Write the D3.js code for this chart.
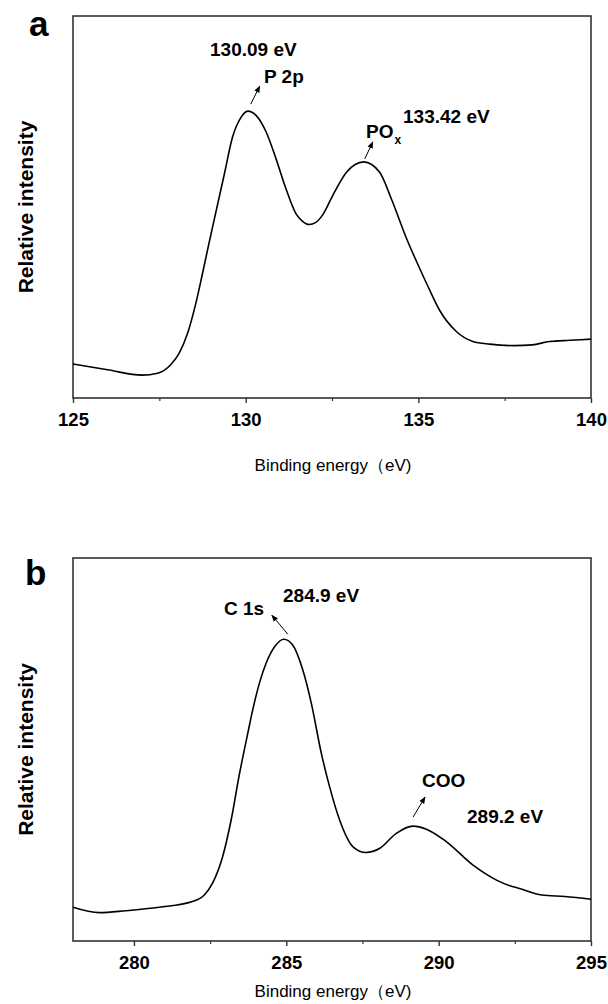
<!DOCTYPE html>
<html>
<head>
<meta charset="utf-8">
<script src="https://cdn.jsdelivr.net/npm/d3@7"></script>
<style>
  body { margin: 0; background: #fff; }
  svg text { font-family: "Liberation Sans", Arial, sans-serif; fill: #000; }
</style>
</head>
<body>
<div id="chart"></div>
<script>
// P 2p spectrum (panel a)
const energyA = [125.0, 126.0, 127.0, 127.45, 127.83, 128.08, 128.32, 128.56, 128.75, 128.95,
  129.15, 129.38, 129.62, 129.86, 130.06, 130.30, 130.59, 130.88, 131.17, 131.46,
  131.64, 131.84, 132.02, 132.22, 132.52, 132.92, 133.42, 133.88, 134.22, 134.67, 135.01, 135.29,
  135.62, 136.10, 136.58, 137.07, 137.78, 138.3, 138.8, 139.4, 140.0];
const intensityA = [8.9, 7.4, 6.0, 6.5, 8.7, 11.8, 17.0, 24.9, 32.6, 41.0,
  49.2, 58.5, 68.3, 73.4, 75.1, 74.0, 69.7, 62.6, 54.7, 48.2,
  46.3, 45.4, 45.9, 47.8, 53.0, 59.1, 61.8, 59.1, 52.1, 41.5, 34.5, 29.0,
  22.9, 17.4, 14.8, 14.1, 13.7, 13.9, 14.8, 15.1, 15.4];
const ticksA = [125, 130, 135, 140];
const minorA = [127.5, 132.5, 137.5];

// C 1s spectrum (panel b)
const energyB = [278.0, 278.86, 279.73, 280.83, 281.92, 282.31, 282.58, 282.91, 283.19, 283.46,
  283.73, 283.90, 284.12, 284.34, 284.66, 284.92, 285.21, 285.54, 285.82, 286.15,
  286.42, 286.75, 287.19, 287.62, 288.07, 288.61, 289.16, 289.60, 290.26, 291.13,
  291.90, 292.34, 292.62, 293.38, 294.15, 295.0];
const intensityB = [8.8, 7.4, 7.9, 8.8, 10.3, 12.0, 15.1, 22.0, 31.6, 43.5,
  54.0, 60.4, 67.4, 72.6, 77.3, 78.8, 77.3, 70.8, 62.1, 49.0,
  40.3, 31.6, 24.6, 23.1, 24.2, 28.1, 30.0, 29.2, 25.9, 19.8,
  15.9, 14.4, 13.8, 12.0, 11.6, 10.9];
const ticksB = [280, 285, 290, 295];
const minorB = [282.5, 287.5, 292.5];

const width = 608, height = 1004;
const svg = d3.select("#chart").append("svg")
  .attr("width", width)
  .attr("height", height);

svg.append("defs").append("marker")
  .attr("id", "head")
  .attr("viewBox", "0 0 10 10")
  .attr("refX", 9).attr("refY", 5)
  .attr("markerWidth", 7).attr("markerHeight", 7)
  .attr("markerUnits", "userSpaceOnUse")
  .attr("orient", "auto")
  .append("path").attr("d", "M0,1 L10,5 L0,9 Z").attr("fill", "#000");

function drawPanel(opt) {
  const x = d3.scaleLinear().domain(opt.xDomain).range([73, 591]);
  const y = d3.scaleLinear().domain([0, 100]).range([opt.bottom, opt.top]);
  const g = svg.append("g");

  // frame
  g.append("rect")
    .attr("x", 73).attr("y", opt.top)
    .attr("width", 518).attr("height", opt.bottom - opt.top)
    .attr("fill", "none").attr("stroke", "#333").attr("stroke-width", 1.6);

  // major ticks
  const ax = g.append("g")
    .attr("transform", `translate(0,${opt.bottom})`)
    .call(d3.axisBottom(x).tickValues(opt.ticks).tickSize(5).tickSizeOuter(0).tickPadding(10));
  ax.select(".domain").remove();
  ax.selectAll("line").attr("stroke", "#333").attr("stroke-width", 1.4);
  ax.selectAll("text")
    .attr("font-family", "Liberation Sans, Arial, sans-serif")
    .attr("font-size", 18.5).attr("font-weight", "bold");

  // minor ticks
  g.append("g")
    .attr("transform", `translate(0,${opt.bottom})`)
    .call(d3.axisBottom(x).tickValues(opt.minor).tickSize(3).tickFormat(""))
    .call((s) => s.select(".domain").remove())
    .selectAll("line").attr("stroke", "#333").attr("stroke-width", 1.2);

  // spectrum
  const data = opt.energy.map((e, i) => [e, opt.intensity[i]]);
  g.append("path")
    .datum(data)
    .attr("fill", "none")
    .attr("stroke", "#000")
    .attr("stroke-width", 1.6)
    .attr("d", d3.line().x((d) => x(d[0])).y((d) => y(d[1])).curve(d3.curveMonotoneX));

  // axis titles
  g.append("text")
    .attr("x", 333).attr("y", opt.bottom + opt.titleGap)
    .attr("text-anchor", "middle")
    .attr("font-size", 17)
    .text("Binding energy（eV)");

  g.append("text")
    .attr("transform", `translate(33,${(opt.top + opt.bottom) / 2}) rotate(-90)`)
    .attr("text-anchor", "middle")
    .attr("font-size", 21).attr("font-weight", "bold")
    .text("Relative intensity");

  // panel letter
  g.append("text")
    .attr("x", opt.letterX).attr("y", opt.letterY)
    .attr("font-size", 35).attr("font-weight", "bold")
    .text(opt.letter);

  // peak annotations
  opt.notes.forEach((n) => {
    const px = x(n.peak[0]), py = y(n.peak[1]);
    g.append("line")
      .attr("x1", px + n.tail[0]).attr("y1", py + n.tail[1])
      .attr("x2", px + n.head[0]).attr("y2", py + n.head[1])
      .attr("stroke", "#000").attr("stroke-width", 1)
      .attr("marker-end", "url(#head)");
    n.labels.forEach((l) => {
      const t = g.append("text")
        .attr("x", l.x).attr("y", l.y)
        .attr("font-size", 19).attr("font-weight", "bold")
        .text(l.text);
      if (l.sub) {
        t.append("tspan").attr("font-size", 12).attr("dy", 6).attr("dx", 1).text(l.sub);
      }
    });
  });
}

drawPanel({
  xDomain: [125, 140], top: 16, bottom: 398, titleGap: 73,
  energy: energyA, intensity: intensityA, ticks: ticksA, minor: minorA,
  letter: "a", letterX: 29, letterY: 36,
  notes: [
    { peak: [130.06, 75.1], tail: [3, -7], head: [12, -25],
      labels: [{ text: "130.09 eV", x: 210, y: 56 }, { text: "P 2p", x: 264, y: 83 }] },
    { peak: [133.42, 61.8], tail: [1, -3], head: [9, -20],
      labels: [{ text: "133.42 eV", x: 403, y: 123 }, { text: "PO", sub: "x", x: 366, y: 138 }] }
  ]
});

drawPanel({
  xDomain: [278, 295], top: 558, bottom: 941, titleGap: 56,
  energy: energyB, intensity: intensityB, ticks: ticksB, minor: minorB,
  letter: "b", letterX: 25, letterY: 585,
  notes: [
    { peak: [284.92, 78.8], tail: [4, -5], head: [-12, -24],
      labels: [{ text: "284.9 eV", x: 283, y: 602 }, { text: "C 1s", x: 224, y: 615 }] },
    { peak: [289.16, 30.0], tail: [0, -9], head: [12, -29],
      labels: [{ text: "COO", x: 422, y: 787 }, { text: "289.2 eV", x: 467, y: 823 }] }
  ]
});
</script>
</body>
</html>
